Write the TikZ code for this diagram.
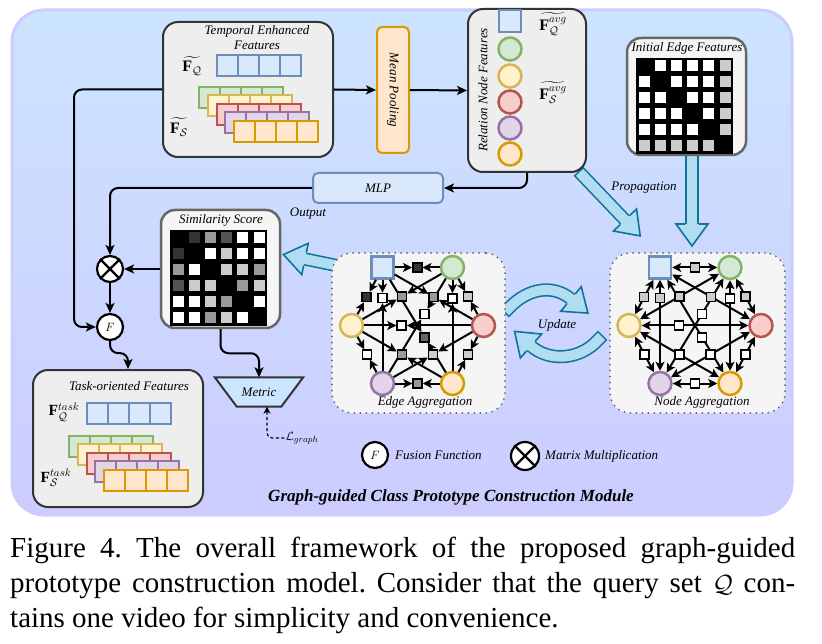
\documentclass[tikz,border=0pt]{standalone}
\usepackage{amsmath}
\usepackage{amssymb}
\usepackage{fontspec}
\setmainfont{Liberation Serif}
\usepackage{tikz}
\usetikzlibrary{arrows.meta}

\definecolor{qfill}{HTML}{DAE8FC}\definecolor{qdraw}{HTML}{6C8EBF}
\definecolor{gfill}{HTML}{D5E8D4}\definecolor{gdraw}{HTML}{82B366}
\definecolor{yfill}{HTML}{FFF2CC}\definecolor{ydraw}{HTML}{D6B656}
\definecolor{rfill}{HTML}{F8CECC}\definecolor{rdraw}{HTML}{B85450}
\definecolor{pfill}{HTML}{E1D5E7}\definecolor{pdraw}{HTML}{9673A6}
\definecolor{ofill}{HTML}{FFE6CC}\definecolor{odraw}{HTML}{D79B00}
\definecolor{afill}{HTML}{B1DDF0}\definecolor{adraw}{HTML}{10739E}
\definecolor{boxfill}{HTML}{EEEEEE}\definecolor{boxdraw}{HTML}{333333}
\definecolor{matfill}{HTML}{F5F5F5}\definecolor{matdraw}{HTML}{666666}
\definecolor{metfill}{HTML}{CCE5FF}
\definecolor{frametop}{RGB}{204,228,255}
\definecolor{framebot}{RGB}{204,204,255}

\tikzset{
  lbl/.style={font=\fontsize{13}{15}\selectfont\itshape, inner sep=1pt},
  mlbl/.style={font=\fontsize{16}{18}\selectfont, inner sep=1pt},
  featbox/.style={draw=boxdraw, fill=boxfill, line width=2pt, rounded corners=15pt},
  matbox/.style={draw=matdraw, fill=matfill, line width=2.5pt, rounded corners=14pt},
  aggbox/.style={draw=matdraw, fill=matfill, line width=2pt, line cap=round, dash pattern=on 0pt off 6pt, rounded corners=20pt},
  cell/.style={line width=2pt},
  ctip/.tip={Stealth[length=10pt, width=9pt, inset=2.5pt]},
  gtip/.tip={Stealth[length=9pt, width=9pt, inset=2.2pt]},
  conn/.style={line width=2pt, -ctip},
  gline/.style={line width=2pt, -gtip},
  gboth/.style={line width=2pt, gtip-gtip},
  gnode/.style={circle, line width=2.5pt, minimum size=23pt, inner sep=0pt},
  qnode/.style={rectangle, fill=qfill, draw=qdraw, line width=2.5pt, minimum size=22pt, inner sep=0pt},
  edgesq/.style={rectangle, draw=black, line width=1.5pt, minimum size=9pt, inner sep=0pt},
  opnode/.style={circle, draw=black, fill=white, line width=2.2pt, minimum size=26pt, inner sep=0pt},
  bigarrow/.style={draw=adraw, line width=1.6pt, double=afill, double distance=10pt, line cap=rect},
  arrowhead/.pic={
    \fill[afill] (0,-16) -- (22,0) -- (0,16) -- cycle;
    \draw[adraw, line width=1.6pt, line join=miter] (0,-6.6) -- (0,-16) -- (22,0) -- (0,16) -- (0,6.6);
  }
}

\begin{document}
\begin{tikzpicture}[x=1pt,y=-1pt]

        \path[use as bounding box, fill=white] (0,0) rectangle (822,644);

        % module frame
        \draw[line width=3pt, draw=framebot, top color=frametop, bottom color=framebot, rounded corners=32pt] (12,10) rectangle (792,515);

        % block arrows
        \draw[bigarrow] (583,176) -- (625,220);
        \pic[rotate=-46.3] at (625,220) {arrowhead};
        \draw[bigarrow] (692,150) -- (692,224);
        \pic[rotate=-90] at (692,224) {arrowhead};
        \draw[bigarrow] (334,265) -- (305,259);
        \pic[rotate=168.3] at (305,259) {arrowhead};
        \draw[bigarrow] (509,308) .. controls (528,288) and (553,284) .. (571,299);
        \pic[rotate=-39.8] at (571,299) {arrowhead};
        \draw[bigarrow] (598,340) .. controls (580,360) and (549,362) .. (531,346);
        \pic[rotate=138.4] at (531,346) {arrowhead};

        % temporal enhanced features
        \node[featbox, minimum width=170pt, minimum height=135pt] (temp) at (248,89.5) {};
        \node[lbl, align=center] (templbl) at (257,38) {Temporal Enhanced\\Features};
        \node[mlbl] (fq) at (192,66) {$\widetilde{\mathbf{F}_{\mathcal{Q}}}$};
        \node[mlbl] (fs) at (179,127) {$\widetilde{\mathbf{F}_{\mathcal{S}}}$};
        \foreach \i in {0,...,3}
          \filldraw[cell, fill=qfill, draw=qdraw] ({217+21*\i},55) rectangle ++(21,21);
        \foreach \f/\d [count=\k from 0] in {gfill/gdraw,yfill/ydraw,rfill/rdraw,pfill/pdraw,ofill/odraw}
          \foreach \i in {0,...,3}
            \filldraw[cell, fill=\f, draw=\d] ({199+8.75*\k+21*\i},{87+8.5*\k}) rectangle ++(21,21);

        % mean pooling
        \node[draw=odraw, fill=ofill, line width=2pt, rounded corners=5pt, minimum width=32pt, minimum height=126pt] (mean) at (393,90) {};
        \node[lbl, rotate=-90] (meanlbl) at (mean) {Mean Pooling};

        % relation node features
        \node[featbox, minimum width=118pt, minimum height=163pt] (rel) at (527,90.5) {};
        \node[lbl, rotate=90] (rellbl) at (483,90) {Relation Node Features};
        \node[qnode] (rq) at (510,21) {};
        \foreach \n/\y/\f/\d in {g/49/gfill/gdraw,y/76/yfill/ydraw,r/102/rfill/rdraw,p/128/pfill/pdraw,o/154/ofill/odraw}
          \node[gnode, fill=\f, draw=\d] (r\n) at (510,\y) {};
        \node[mlbl] (favq) at (553,24) {$\widetilde{\mathbf{F}^{avg}_{\mathcal{Q}}}$};
        \node[mlbl] (favs) at (553,93) {$\widetilde{\mathbf{F}^{avg}_{\mathcal{S}}}$};

        % initial edge features
        \node[matbox, minimum width=119pt, minimum height=117pt] (init) at (686.5,96.5) {};
        \node[lbl] (initlbl) at (687,48) {Initial Edge Features};
        \fill (636,58) rectangle (733,154);
        \foreach \row [count=\rw from 0] in {{100,0,0,0,0,20},{0,100,0,0,0,20},{0,0,100,0,0,20},{0,0,0,100,0,20},{0,0,0,0,100,20},{20,20,20,20,20,100}}
          \foreach \gv [count=\col from 0] in \row
            \fill[black!\gv] ({638.6+16.2*\col},{60.3+16*\rw}) rectangle ++(11,11);

        % mlp
        \node[draw=qdraw, fill=qfill, line width=2pt, rounded corners=5pt, minimum width=130pt, minimum height=30pt, lbl] (mlp) at (378,188) {MLP};

        % fusion and multiplication
        \node[opnode] (mul) at (110,269) {};
        \draw[line width=2.2pt] (mul.45) -- (mul.225) (mul.135) -- (mul.315);
        \node[opnode, font=\fontsize{13}{15}\selectfont] (fus) at (110,327) {$F$};

        % similarity score
        \node[matbox, minimum width=119pt, minimum height=118pt] (sim) at (220.5,269) {};
        \node[lbl] (simlbl) at (221,220) {Similarity Score};
        \fill (170,230) rectangle (267,326);
        \foreach \row [count=\rw from 0] in {{100,80,40,67,0,0},{80,100,0,20,0,0},{40,0,100,20,20,40},{67,20,20,100,40,20},{0,0,20,40,100,0},{0,0,40,20,0,100}}
          \foreach \gv [count=\col from 0] in \row
            \fill[black!\gv] ({172.6+16.2*\col},{232.5+16*\rw}) rectangle ++(11,11);

        % metric
        \node[minimum width=88pt, minimum height=29pt, inner sep=0pt] (metric) at (259,392) {};
        \filldraw[draw=boxdraw, fill=metfill, line width=2pt, line join=miter] (metric.north west) -- (metric.north east) -- ([xshift=-22pt]metric.south east) -- ([xshift=22pt]metric.south west) -- cycle;
        \node[lbl] (metriclbl) at (metric) {Metric};
        \node[lbl, font=\fontsize{13}{15}\selectfont] (lgraph) at (302,438) {$\mathcal{L}_{graph}$};

        % task-oriented features
        \node[featbox, minimum width=170pt, minimum height=137pt] (task) at (118,438.5) {};
        \node[lbl] (tasklbl) at (129,386) {Task-oriented Features};
        \node[mlbl, font=\fontsize{15.5}{18}\selectfont] (ftq) at (64,412) {$\mathbf{F}^{task}_{\mathcal{Q}}$};
        \node[mlbl, font=\fontsize{15.5}{18}\selectfont] (fts) at (56,478) {$\mathbf{F}^{task}_{\mathcal{S}}$};
        \foreach \i in {0,...,3}
          \filldraw[cell, fill=qfill, draw=qdraw] ({87+21*\i},403) rectangle ++(21,21);
        \foreach \f/\d [count=\k from 0] in {gfill/gdraw,yfill/ydraw,rfill/rdraw,pfill/pdraw,ofill/odraw}
          \foreach \i in {0,...,3}
            \filldraw[cell, fill=\f, draw=\d] ({69+8.75*\k+21*\i},{436+8.4*\k}) rectangle ++(21,21);

        % aggregation graphs
        \node[aggbox, minimum width=173pt, minimum height=160pt] (ebox) at (418.5,333) {};
        \node[aggbox, minimum width=175pt, minimum height=160pt] (nbox) at (697.5,333) {};

        \def\edgelist{q/g/.5/80,g/r/.5/20,r/o/.5/20,o/p/.5/40,p/y/.5/0,y/q/.5/80,q/r/.5/40,y/g/.5/40,r/p/.5/20,o/y/.5/40,g/o/.2/0,p/q/.8/0,q/o/.62/60,g/p/.38/0,r/y/.65/0}
        \def\nodelist{q/g/.5/20,g/r/.5/20,r/o/.5/0,o/p/.5/0,p/y/.5/0,y/q/.5/20,q/r/.5/20,y/g/.5/20,r/p/.5/0,o/y/.5/0,g/o/.2/0,p/q/.8/20,q/o/.62/0,g/p/.38/0,r/y/.65/0}

        \begin{scope}[shift={(417.5,325.5)}]
          \node[qnode] (eq) at (-35,-58) {};
          \foreach \n/\x/\y/\f/\d in {g/35/-58/gfill/gdraw,r/66/0/rfill/rdraw,o/35/58/ofill/odraw,p/-35/58/pfill/pdraw,y/-66/0/yfill/ydraw}
            \node[gnode, fill=\f, draw=\d] (e\n) at (\x,\y) {};
        \end{scope}
        \foreach \na/\nb/\ps/\gv in \edgelist
          \path (e\na) -- (e\nb) node[edgesq, pos=\ps, fill=black!\gv] (e\na\nb) {};
        \foreach \na/\nb/\ps/\gv in \edgelist {
          \draw[gline] (e\na) -- (e\na\nb);
          \draw[gline] (e\nb) -- (e\na\nb);
        }
        \foreach \na/\nb/\ps/\gv in \edgelist
          \node[edgesq, fill=black!\gv] (ev\na\nb) at (e\na\nb) {};

        \begin{scope}[shift={(695,325.5)}]
          \node[qnode] (nq) at (-35,-58) {};
          \foreach \n/\x/\y/\f/\d in {g/35/-58/gfill/gdraw,r/66/0/rfill/rdraw,o/35/58/ofill/odraw,p/-35/58/pfill/pdraw,y/-66/0/yfill/ydraw}
            \node[gnode, fill=\f, draw=\d] (n\n) at (\x,\y) {};
        \end{scope}
        \foreach \na/\nb/\ps/\gv in \nodelist
          \draw[gboth] (n\na) -- (n\nb);
        \foreach \na/\nb/\ps/\gv in \nodelist
          \path (n\na) -- (n\nb) node[edgesq, pos=\ps, fill=black!\gv] (n\na\nb) {};

        \node[lbl] (elbl) at (425,402) {Edge Aggregation};
        \node[lbl] (nlbl) at (702,402) {Node Aggregation};

        % other labels
        \node[lbl] (outlbl) at (308,214) {Output};
        \node[lbl] (proplbl) at (644,188) {Propagation};
        \node[lbl] (updlbl) at (557,325) {Update};

        % legend
        \node[opnode, font=\fontsize{13}{15}\selectfont] (lf) at (375,455) {$F$};
        \node[lbl, anchor=west] (lflbl) at (394,455) {Fusion Function};
        \node[opnode, minimum size=28pt] (lm) at (525,456) {};
        \draw[line width=2.4pt] (lm.45) -- (lm.225) (lm.135) -- (lm.315);
        \node[lbl, anchor=west] (lmlbl) at (544,456) {Matrix Multiplication};
        \node[font=\fontsize{17}{20}\selectfont\bfseries\itshape] (title) at (451,497) {Graph-guided Class Prototype Construction Module};

        % connectors
        \draw[conn] (temp.east) -- (mean.west);
        \draw[conn] (mean.east) -- (rel.west);
        \draw[conn, rounded corners=8pt] (rel.south) |- (mlp.east);
        \draw[conn, rounded corners=8pt] (mlp.west) -| (mul.north);
        \draw[conn, rounded corners=8pt] (temp.west) -- ++(-88,0) |- (fus.west);
        \draw[conn] (sim.west) -- (mul.east);
        \draw[conn] (mul.south) -- (fus.north);
        \draw[conn, rounded corners=8pt] (fus.south) -- ++(0,12) -| ([xshift=10pt]task.north);
        \draw[conn, rounded corners=8pt] (sim.south) -- ++(0,24) -| (metric.north);
        \draw[line width=1.2pt, dash pattern=on 3pt off 2.5pt, -{Stealth[length=7pt, width=7pt]}, rounded corners=5pt] (lgraph.west) -| ([xshift=8pt]metric.south);

        % caption
        \node[anchor=north west, inner sep=0pt, align=left, font=\fontsize{29}{35}\selectfont\frenchspacing] (caption) at (10,537) {\makebox[785pt][s]{Figure 4. The overall framework of the proposed graph-guided}\\\makebox[785pt][s]{prototype construction model. Consider that the query set $\mathcal{Q}$ con-}\\\makebox[785pt][l]{tains one video for simplicity and convenience.}};

\end{tikzpicture}
\end{document}
